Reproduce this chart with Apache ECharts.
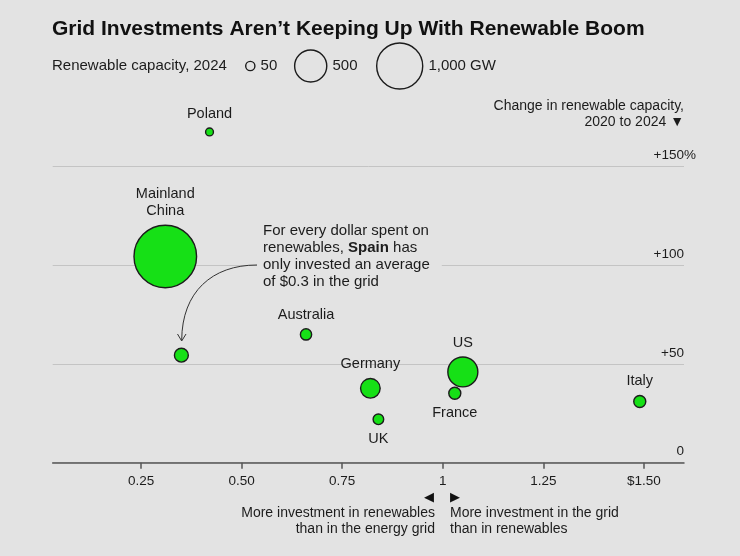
<!DOCTYPE html>
<html><head><meta charset="utf-8">
<script src="https://cdn.jsdelivr.net/npm/echarts@6/dist/echarts.min.js"></script>
<style>html,body{margin:0;padding:0;background:#e3e3e3;}#c{width:740px;height:556px;}</style>
</head><body><div id="c"></div>
<script>
// ---- data (ordered largest first so small bubbles draw on top) ----
const countries = ['Mainland China','US','Germany','Spain','France','Italy','Australia','UK','Poland'];
const pointLabels = ['Mainland\nChina','US','Germany','','France','Italy','Australia','UK','Poland'];
const gridPerRenewableDollar = [0.31, 1.05, 0.82, 0.35, 1.03, 1.49, 0.66, 0.84, 0.42];
const capacityChangePct = [104.5, 46, 37.7, 54.5, 35.2, 31, 65, 22, 167.6];
const capacityGW = [1820, 438, 196, 104, 80, 80, 71, 64, 38];
const labelsBelow = ['UK', 'France'];
const xTickValues = [0.25, 0.5, 0.75, 1, 1.25, 1.5];
const xTickLabels = ['0.25', '0.50', '0.75', '1', '1.25', '$1.50'];
const yTickValues = [0, 50, 100, 150];
const yTickLabels = ['0', '+50', '+100', '+150'];
const legendCapacities = [50, 500, 1000];
const legendLabels = ['50', '500', '1,000 GW'];

const FONT = '"Liberation Sans", Arial, sans-serif';
const BG = '#e3e3e3';
const GREEN = '#16e016';
const INK = '#1c1c1c';
const BW = 1.4;
const rOuter = c => 0.75 * Math.sqrt(c);

const chart = echarts.init(document.getElementById('c'));

const legendCenters = [250.3, 310.7, 399.7];
const legendGraphics = [];
legendCapacities.forEach((c, i) => {
  const r = rOuter(c);
  legendGraphics.push({type:'circle', shape:{cx:legendCenters[i], cy:66, r:r - BW/2},
    style:{fill:'none', stroke:INK, lineWidth:BW}, z:10});
  legendGraphics.push({type:'text', x:legendCenters[i] + r + 5, y:66,
    style:{text:legendLabels[i], font:'15px ' + FONT, fill:INK, textVerticalAlign:'middle'}, z:10});
});

const option = {
  backgroundColor: BG,
  animation: false,
  grid: {left: 52.7, right: 740 - 684, top: 166.7, bottom: 556 - 462.7},
  xAxis: {
    type: 'value', min: 0.03, max: 1.6,
    splitLine: {show: false},
    axisLine: {lineStyle: {color: '#555', width: 1.5}},
    axisTick: {customValues: xTickValues, length: 6, lineStyle: {color: '#555', width: 1.5}},
    axisLabel: {customValues: xTickValues, margin: 12, fontSize: 13.5, color: INK, fontFamily: FONT,
      formatter: v => xTickLabels[xTickValues.indexOf(v)]}
  },
  yAxis: {
    type: 'value', position: 'right', min: 0, max: 150, interval: 50,
    axisLine: {show: false}, axisTick: {show: false},
    splitLine: {lineStyle: {color: '#c4c4c4', width: 1}},
    axisLabel: {
      inside: true, margin: -12, verticalAlign: 'bottom', padding: [0, 0, 4, 0],
      formatter: v => {
        const t = yTickLabels[yTickValues.indexOf(v)];
        return '{n|' + t + '}{p|' + (v === 150 ? '%' : '') + '}';
      },
      rich: {
        n: {fontSize: 13.5, color: INK, fontFamily: FONT},
        p: {fontSize: 13.5, color: INK, fontFamily: FONT, width: 12, align: 'left'}
      }
    }
  },
  series: [{
    type: 'scatter', clip: false, z: 3,
    data: countries.map((n, i) => ({
      name: n,
      value: [gridPerRenewableDollar[i], capacityChangePct[i], capacityGW[i]],
      label: {position: labelsBelow.includes(n) ? 'bottom' : 'top'}
    })),
    symbolSize: v => 2 * rOuter(v[2]) - BW,
    itemStyle: {color: GREEN, borderColor: INK, borderWidth: BW, opacity: 1},
    label: {show: true, distance: 5, fontSize: 14.5, lineHeight: 17, color: INK, fontFamily: FONT,
      formatter: p => pointLabels[p.dataIndex]},
    emphasis: {disabled: true}
  }],
  graphic: [
    {type:'text', x:52, y:29, z:10, style:{text:'Grid Investments Aren’t Keeping Up With Renewable Boom',
      font:'bold 21px ' + FONT, fill:'#111', textVerticalAlign:'middle'}},
    {type:'text', x:52, y:66, z:10, style:{text:'Renewable capacity, 2024', font:'15px ' + FONT, fill:INK, textVerticalAlign:'middle'}},
    ...legendGraphics,
    {type:'text', x:684, y:106, z:10, style:{text:'Change in renewable capacity,', font:'14px ' + FONT, fill:INK, textAlign:'right', textVerticalAlign:'middle'}},
    {type:'text', x:684, y:122, z:10, style:{text:'2020 to 2024 ▼', font:'14px ' + FONT, fill:INK, textAlign:'right', textVerticalAlign:'middle'}},
    {type:'text', x:257, y:223, z:10, style:{
      text:'For every dollar spent on\nrenewables, {b|Spain} has\nonly invested an average\nof $0.3 in the grid',
      font:'15px ' + FONT, fill:INK, lineHeight:16.7, backgroundColor:BG, padding:[0, 12, 0, 6],
      rich:{b:{fontWeight:'bold', fontSize:15, fontFamily:FONT, fill:INK}}}},
    {type:'bezierCurve', z:11, shape:{x1:257, y1:265, cpx1:212, cpy1:265, cpx2:182, cpy2:292, x2:181.7, y2:340},
      style:{stroke:'#333', lineWidth:1, fill:'none'}},
    {type:'polyline', z:11, shape:{points:[[177.5, 334], [181.7, 341], [186, 334]]},
      style:{stroke:'#333', lineWidth:1, fill:'none'}},
    {type:'text', x:429, y:498, z:10, style:{text:'◀', font:'13px "DejaVu Sans", sans-serif', fill:'#111', textAlign:'center', textVerticalAlign:'middle'}},
    {type:'text', x:455, y:498, z:10, style:{text:'▶', font:'13px "DejaVu Sans", sans-serif', fill:'#111', textAlign:'center', textVerticalAlign:'middle'}},
    {type:'text', x:435, y:513, z:10, style:{text:'More investment in renewables', font:'14px ' + FONT, fill:INK, textAlign:'right', textVerticalAlign:'middle'}},
    {type:'text', x:435, y:529, z:10, style:{text:'than in the energy grid', font:'14px ' + FONT, fill:INK, textAlign:'right', textVerticalAlign:'middle'}},
    {type:'text', x:450, y:513, z:10, style:{text:'More investment in the grid', font:'14px ' + FONT, fill:INK, textVerticalAlign:'middle'}},
    {type:'text', x:450, y:529, z:10, style:{text:'than in renewables', font:'14px ' + FONT, fill:INK, textVerticalAlign:'middle'}}
  ]
};
chart.setOption(option);
</script></body></html>
